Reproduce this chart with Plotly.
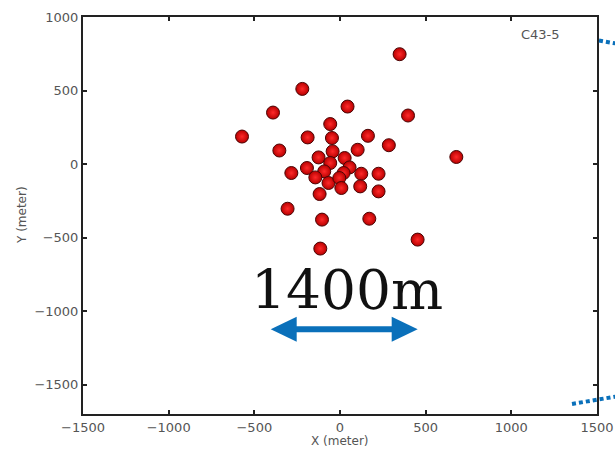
import plotly.graph_objects as go

# Antenna positions (meters)
x_m = [-572, -391, -220, 348, 44, 397, -57, -189, -47, 163, 285, -354, 103, 679,
       -43, -125, 27, -57, -193, 56, -92, 21, 124, 225, -284, -144, -67, -4, 8,
       118, 225, -119, -306, -105, 171, -115, 453]
y_m = [187, 350, 511, 747, 391, 330, 272, 181, 177, 192, 128, 92, 97, 48,
       86, 45, 41, 7, -27, -23, -50, -61, -66, -66, -61, -91, -129, -95, -163,
       -152, -186, -204, -304, -378, -372, -575, -514]

x_ticks = [-1500, -1000, -500, 0, 500, 1000, 1500]
y_ticks = [-1500, -1000, -500, 0, 500, 1000]
x_range = [-1500, 1500]
y_range = [-1700, 1000]

config_label = "C43-5"
scale_label = "1400m"

W, H = 615, 451
L, R, T, B = 83, 18, 17, 37
PW, PH = W - L - R, H - T - B


def px(xp):
    return (xp - L) / PW


def py(yp):
    return (H - B - yp) / PH


fig = go.Figure()
fig.add_trace(go.Scatter(
    x=x_m, y=y_m, mode="markers",
    marker=dict(size=13, color="#b80000",
                gradient=dict(type="radial", color="#ff2a2a"),
                line=dict(color="#4a0505", width=1)),
    hoverinfo="x+y", showlegend=False,
))

axis_common = dict(
    showgrid=False, zeroline=False, showline=True, linecolor="#222", linewidth=2,
    mirror="ticks", ticks="inside", ticklen=4, tickwidth=1.5, tickcolor="#222",
    automargin=False,
    tickfont=dict(family="DejaVu Sans", size=13, color="#555"),
)
fig.update_xaxes(range=x_range, tickvals=x_ticks,
                 ticktext=[str(v).replace("-", "\u2212") for v in x_ticks], **axis_common)
fig.update_yaxes(range=y_range, tickvals=y_ticks,
                 ticktext=[str(v).replace("-", "\u2212") for v in y_ticks], **axis_common)

blue = "#0a70ba"
shapes = []
# double arrow
ay = 329.3
shapes.append(dict(type="line", xref="paper", yref="paper",
                   x0=px(294), y0=py(ay), x1=px(394), y1=py(ay),
                   line=dict(color=blue, width=6)))
shapes.append(dict(type="path", xref="paper", yref="paper",
                   path=f"M {px(270.7)},{py(ay)} L {px(296.7)},{py(316.7)} L {px(296.7)},{py(341.7)} Z",
                   fillcolor=blue, line=dict(width=0)))
shapes.append(dict(type="path", xref="paper", yref="paper",
                   path=f"M {px(417.7)},{py(ay)} L {px(391.7)},{py(316.7)} L {px(391.7)},{py(341.7)} Z",
                   fillcolor=blue, line=dict(width=0)))
# dotted connector lines at right
shapes.append(dict(type="line", xref="paper", yref="paper",
                   x0=px(599), y0=py(40.5), x1=px(616), y1=py(43.5),
                   line=dict(color=blue, width=4, dash="4px,3px")))
shapes.append(dict(type="line", xref="paper", yref="paper",
                   x0=px(572), y0=py(404), x1=px(616), y1=py(396.5),
                   line=dict(color=blue, width=4, dash="4px,3px")))

annotations = [
    dict(text=config_label, x=px(540.7), y=py(34.7), xref="paper", yref="paper",
         showarrow=False, font=dict(family="DejaVu Sans", size=13, color="#555"),
         xanchor="center", yanchor="middle"),
    dict(text=scale_label, x=px(346.7), y=py(290), xref="paper", yref="paper",
         showarrow=False, font=dict(family="DejaVu Serif", size=55, color="#111"),
         xanchor="center", yanchor="middle"),
    dict(text="X (meter)", x=px(340), y=py(441), xref="paper", yref="paper",
         showarrow=False, font=dict(family="DejaVu Sans", size=12, color="#555"),
         xanchor="center", yanchor="middle"),
    dict(text="Y (meter)", x=px(22), y=py(215), xref="paper", yref="paper",
         showarrow=False, textangle=-90,
         font=dict(family="DejaVu Sans", size=12, color="#555"),
         xanchor="center", yanchor="middle"),
]

fig.update_layout(
    width=W, height=H, margin=dict(l=L, r=R, t=T, b=B),
    paper_bgcolor="white", plot_bgcolor="white",
    shapes=shapes, annotations=annotations,
)

fig.write_html("out.html")
